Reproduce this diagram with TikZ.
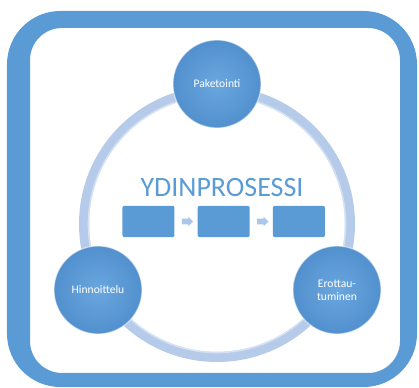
\documentclass[tikz,border=0pt]{standalone}
\usepackage{fontspec}
\setmainfont{Carlito}
\usepackage{tikz}
\usetikzlibrary{shapes,arrows,positioning,calc}

\definecolor{officeblue}{HTML}{5B9BD5}
\definecolor{ballin}{HTML}{6AA7DF}
\definecolor{ballout}{HTML}{5290CE}
\definecolor{ringblue}{HTML}{B5CBE9}
\definecolor{ringlight}{HTML}{D4E2F4}
\definecolor{stepblue}{HTML}{A8C7EA}

\begin{document}
\begin{tikzpicture}[
    x=0.75pt, y=-0.75pt,
    phase/.style={circle, minimum size=66pt, inner sep=0pt, align=center,
        shading=radial, inner color=ballin, outer color=ballout,
        draw=white, draw opacity=0.55, line width=0.9pt,
        text=white, font=\fontsize{8.7pt}{10pt}\selectfont},
    stage/.style={rectangle, fill=officeblue, minimum width=39pt, minimum height=23.5pt,
        rounded corners=1.5pt, inner sep=0pt},
    flow/.style={single arrow, fill=stepblue, minimum height=8.5pt, minimum width=7pt,
        single arrow head extend=1.4pt, inner sep=2pt}
]
\useasboundingbox (0,0) rectangle (419,388);

% Outer frame
\fill[officeblue, even odd rule]
    [rounded corners=40pt] (7,11) rectangle (417,387)
    [rounded corners=24pt] (30,28) rectangle (400,373);

% Cycle ring
\draw[ringblue, line width=7.5pt] (217,224) circle[radius=133];
\draw[ringlight, line width=1.2pt] (217,224) circle[radius=128.5];

% Title and core process
\node[inner sep=0pt, text=officeblue, font=\fontsize{21pt}{24pt}\selectfont] (title) at (222,188) {YDINPROSESSI};

\node[stage] (step1) at (148.5,221.5) {};
\node[stage, right=17pt of step1] (step2) {};
\node[stage, right=17pt of step2] (step3) {};

\node[flow] (flow1) at ($(step1.east)!0.5!(step2.west)$) {};
\node[flow] (flow2) at ($(step2.east)!0.5!(step3.west)$) {};

% Phases around the ring
\node[phase] (pack) at (217,84) {Paketointi};
\node[phase] (price) at (98,290) {Hinnoittelu};
\node[phase] (diff) at (337,290) {Erottau-\\tuminen};

\end{tikzpicture}
\end{document}
